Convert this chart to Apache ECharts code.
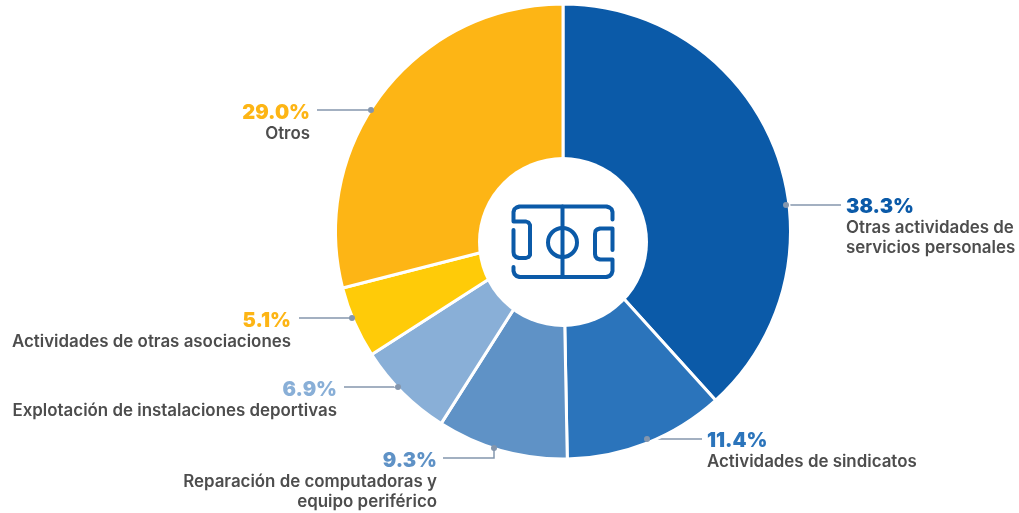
<!DOCTYPE html>
<html><head><meta charset="utf-8">
<style>html,body{margin:0;padding:0;background:#fff}#c{width:1019px;height:513px}</style>
<script src="https://cdn.jsdelivr.net/npm/echarts@6/dist/echarts.min.js"></script>
</head><body><div id="c"></div>
<script>
const categories = ["Otras actividades de\nservicios personales","Actividades de sindicatos","Reparación de computadoras y\nequipo periférico","Explotación de instalaciones deportivas","Actividades de otras asociaciones","Otros"];
const shareValues = [38.3,11.4,9.3,6.9,5.1,29.0];
const sliceColors = ["#0b5aa8","#2b74bb","#5f92c6","#89afd7","#ffcb08","#fdb515"];
const pctColors = ["#0b5aa8","#2b74bb","#5f92c6","#89afd7","#fdb515","#fdb515"];
const labelAnchors = [[846,196,"left"],[707,430,"left"],[437,450,"right"],[337,379,"right"],[291,310,"right"],[310,102,"right"]];
const leaderPaths = [[[786,205],[841,205]],[[647,439],[702,439]],[[494,448],[494,458],[443,458]],[[398,387],[344,387]],[[352,318],[299,318]],[[371,110],[317,110]]];
const font = "Inter, 'Open Sans', sans-serif";
const chart = echarts.init(document.getElementById('c'));
const blue = "#0b5aa8";
const st = {stroke:blue,lineWidth:4,fill:null,lineCap:'round',lineJoin:'round'};
const dots = leaderPaths.map(p=>({type:'circle',z:100,shape:{cx:p[0][0],cy:p[0][1],r:3},style:{fill:'#8496ad'}}));
const iconPaths = [
 [[612.5,219.5],[612.5,212],[611.5,209],[609.5,207.5],[606.5,206.5],[519.5,206.5],[516.5,207.5],[514.5,209],[513.5,212],[513.5,221.5],[526,221.5],[528.5,222.5],[530,225],[530,255],[528.5,257],[526,258],[519,258],[516,257],[514,255],[513.5,252],[513.5,230]],
 [[513.5,267],[513.5,271],[514.5,274],[516.5,276],[519.5,277],[606.5,277],[609.5,276],[611.5,274],[612.5,271],[612.5,259.5],[600,259.5],[597,258.5],[595.5,256.5],[595,254],[595,234],[595.5,231],[597,229.5],[600,228.5],[612.5,228.5],[612.5,250]],
 [[562.5,206.5],[562.5,277]]
];
chart.setOption({
 animation:false,
 series:[{
  type:'pie',center:[563,231.5],radius:[0,227.5],startAngle:90,clockwise:true,
  itemStyle:{borderColor:'#fff',borderWidth:3},
  emphasis:{disabled:true},
  data:categories.map((n,i)=>({name:n,value:shareValues[i],itemStyle:{color:sliceColors[i]},
    label:{formatter:'{p|'+shareValues[i].toFixed(1)+'%}\n{n|'+n.replace('\n','}\n{n|')+'}',
      rich:{p:{fontFamily:font,fontSize:20,fontWeight:900,color:pctColors[i],lineHeight:22,align:labelAnchors[i][2]},
            n:{fontFamily:font,fontSize:16.9,fontWeight:600,color:'#4d4d4d',lineHeight:20,align:labelAnchors[i][2]}}}})),
  label:{show:true,position:'outside'},
  labelLine:{show:true,lineStyle:{color:'#8496ad',width:1.5}},
  labelLayout:function(p){const i=p.dataIndex;return {x:labelAnchors[i][0],y:labelAnchors[i][1],align:labelAnchors[i][2],verticalAlign:'top',labelLinePoints:leaderPaths[i]};}
 }],
 graphic:[
  {type:'circle',z:50,shape:{cx:563,cy:242,r:85},style:{fill:'#fff'}},
  ...iconPaths.map(d=>({type:'polyline',z:60,shape:{points:d},style:st})),
  {type:'circle',z:60,shape:{cx:562.5,cy:242.5,r:14.5},style:st},
  ...dots
 ]
});
</script></body></html>
